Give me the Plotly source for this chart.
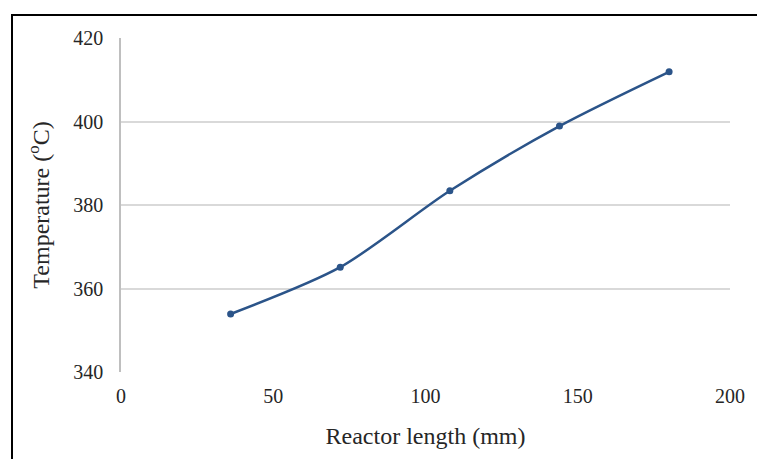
import plotly.graph_objects as go

# Reactor temperature profile
reactor_length_mm = [36, 72, 108, 144, 180]
temperature_c = [353.9, 365.1, 383.4, 398.9, 411.9]

x_ticks = [0, 50, 100, 150, 200]
y_ticks = [340, 360, 380, 400, 420]

W, H = 757, 459
L, R, T, B = 121, 27, 38, 87
pw, ph = W - L - R, H - T - B

fig = go.Figure()
fig.add_trace(go.Scatter(
    x=reactor_length_mm, y=temperature_c,
    mode="lines+markers",
    line=dict(color="#2B5489", width=2.5, shape="spline", smoothing=0.8),
    marker=dict(color="#2B5489", size=7),
    showlegend=False,
))

serif = "Liberation Serif, Times New Roman, serif"

fig.update_layout(
    width=W, height=H,
    margin=dict(l=L, r=R, t=T, b=B),
    paper_bgcolor="white", plot_bgcolor="white",
    font=dict(family=serif, color="#262626", size=20),
    xaxis=dict(
        range=[0, 200], tickvals=x_ticks,
        showgrid=False, zeroline=False, showline=False,
        ticks="outside", ticklen=6, tickcolor="rgba(0,0,0,0)",
        tickfont=dict(family=serif, size=20, color="#262626"),
        title=dict(text="Reactor length (mm)", standoff=21,
                   font=dict(family=serif, size=24, color="#262626")),
    ),
    yaxis=dict(
        range=[340, 420], tickvals=y_ticks,
        showgrid=True, gridcolor="#D9D9D9", gridwidth=1.5,
        zeroline=False, showline=True, linecolor="#BFBFBF", linewidth=1.5,
        ticks="outside", ticklen=12, tickcolor="rgba(0,0,0,0)",
        tickfont=dict(family=serif, size=20, color="#262626"),
        title=dict(text="Temperature (<sup>o</sup>C)", standoff=17,
                   font=dict(family=serif, size=24, color="#262626")),
    ),
)

# Outer frame around the figure
fig.add_shape(
    type="rect", xref="paper", yref="paper",
    x0=(12 - L) / pw, x1=1.5,
    y0=-0.5, y1=(H - B - 15) / ph,
    line=dict(color="black", width=2), fillcolor="rgba(0,0,0,0)",
    layer="above",
)

fig.write_html("out.html")
